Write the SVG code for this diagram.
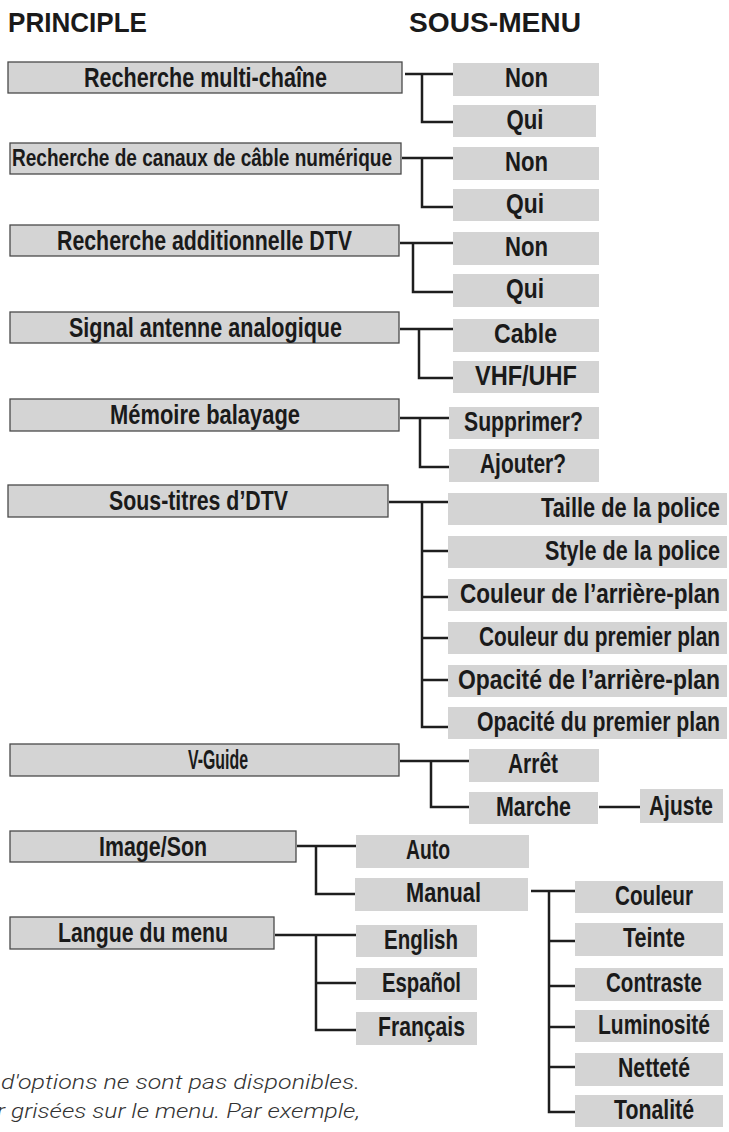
<svg xmlns="http://www.w3.org/2000/svg" width="729" height="1132" viewBox="0 0 729 1132">
<style>
.pb{fill:#d4d4d4;stroke:#4a4a4a;stroke-width:1.3}
.sb{fill:#d4d4d4}
.t{font-family:"Liberation Sans Narrow","Liberation Sans",Arial,sans-serif;font-weight:bold;font-size:28px;fill:#1a1a1a}
.m{text-anchor:middle}
.e{text-anchor:end}
.h{font-family:"Liberation Sans",Arial,sans-serif;font-weight:bold;font-size:28px;fill:#1a1a1a}
.n{font-family:Roboto,"Liberation Sans",Arial,sans-serif;font-style:italic;font-weight:300;font-size:20px;fill:#333333}
.c{fill:none;stroke:#1e1e1e;stroke-width:2.5}
</style>
<rect width="729" height="1132" fill="#ffffff"/>
<g id="titles">
<text class="h" x="8" y="32" textLength="139" lengthAdjust="spacingAndGlyphs">PRINCIPLE</text>
<text class="h" x="409" y="32" textLength="172" lengthAdjust="spacingAndGlyphs">SOUS-MENU</text>
</g>
<g id="connectors">
<path class="c" d="M405,74 H453 M422,74 V122 H453"/>
<path class="c" d="M402,158 H453 M422,158 V207 H453"/>
<path class="c" d="M400,243 H453 M413,243 V292 H453"/>
<path class="c" d="M400,329 H453 M419,329 V378 H453"/>
<path class="c" d="M400,418 H449 M420,418 V467 H449"/>
<path class="c" d="M389,502 H448 M422,502 V727 H448 M422,551 H448 M422,597 H448 M422,638 H448 M422,680 H448"/>
<path class="c" d="M400,761 H469 M431,761 V807 H469 M599,807 H640"/>
<path class="c" d="M297,846 H356 M316,846 V894 H355"/>
<path class="c" d="M275,935 H356 M316,935 V1030 H356 M316,983 H356"/>
<path class="c" d="M531,891 H575 M549,891 V1112 H575 M549,941 H575 M549,986 H575 M549,1027 H575 M549,1067 H575"/>
</g>
<g id="p1"><rect class="pb" x="8" y="62" width="394" height="31"/><text class="t m" x="205.5" y="87" textLength="243" lengthAdjust="spacingAndGlyphs">Recherche multi-chaîne</text></g>
<g id="p2"><rect class="pb" x="10" y="143" width="391" height="31"/><text class="t m" x="202" y="166" style="font-size:24px" textLength="380" lengthAdjust="spacingAndGlyphs">Recherche de canaux de câble numérique</text></g>
<g id="p3"><rect class="pb" x="10" y="225" width="389" height="31"/><text class="t m" x="204.5" y="250" textLength="295" lengthAdjust="spacingAndGlyphs">Recherche additionnelle DTV</text></g>
<g id="p4"><rect class="pb" x="10" y="312" width="389" height="31"/><text class="t m" x="205.5" y="337" textLength="273" lengthAdjust="spacingAndGlyphs">Signal antenne analogique</text></g>
<g id="p5"><rect class="pb" x="10" y="399" width="389" height="32"/><text class="t m" x="205" y="424" textLength="190" lengthAdjust="spacingAndGlyphs">Mémoire balayage</text></g>
<g id="p6"><rect class="pb" x="8" y="485" width="380" height="32"/><text class="t m" x="198.5" y="510" textLength="179" lengthAdjust="spacingAndGlyphs">Sous-titres d’DTV</text></g>
<g id="p7"><rect class="pb" x="10" y="744" width="389" height="32"/><text class="t m" x="218" y="769" textLength="60" lengthAdjust="spacingAndGlyphs">V-Guide</text></g>
<g id="p8"><rect class="pb" x="10" y="831" width="286" height="31"/><text class="t m" x="153" y="856" textLength="108" lengthAdjust="spacingAndGlyphs">Image/Son</text></g>
<g id="p9"><rect class="pb" x="10" y="917" width="264" height="32"/><text class="t m" x="143" y="942" textLength="170" lengthAdjust="spacingAndGlyphs">Langue du menu</text></g>

<g id="s-non1"><rect class="sb" x="453" y="63" width="146" height="33"/><text class="t m" x="526.5" y="87" textLength="43" lengthAdjust="spacingAndGlyphs">Non</text></g>
<g id="s-qui1"><rect class="sb" x="453" y="105" width="143" height="32"/><text class="t m" x="525" y="129" textLength="37" lengthAdjust="spacingAndGlyphs">Qui</text></g>
<g id="s-non2"><rect class="sb" x="453" y="147" width="146" height="33"/><text class="t m" x="526.5" y="171" textLength="43" lengthAdjust="spacingAndGlyphs">Non</text></g>
<g id="s-qui2"><rect class="sb" x="453" y="189" width="146" height="32"/><text class="t m" x="525" y="213" textLength="38" lengthAdjust="spacingAndGlyphs">Qui</text></g>
<g id="s-non3"><rect class="sb" x="453" y="232" width="146" height="33"/><text class="t m" x="526.5" y="256" textLength="43" lengthAdjust="spacingAndGlyphs">Non</text></g>
<g id="s-qui3"><rect class="sb" x="453" y="274" width="146" height="33"/><text class="t m" x="525" y="298" textLength="38" lengthAdjust="spacingAndGlyphs">Qui</text></g>
<g id="s-cable"><rect class="sb" x="453" y="319" width="146" height="33"/><text class="t m" x="525.5" y="343" textLength="63" lengthAdjust="spacingAndGlyphs">Cable</text></g>
<g id="s-vhf"><rect class="sb" x="453" y="361" width="146" height="32"/><text class="t m" x="526" y="385" textLength="102" lengthAdjust="spacingAndGlyphs">VHF/UHF</text></g>
<g id="s-supprimer"><rect class="sb" x="449" y="407" width="150" height="32"/><text class="t m" x="523.5" y="431" textLength="119" lengthAdjust="spacingAndGlyphs">Supprimer?</text></g>
<g id="s-ajouter"><rect class="sb" x="449" y="449" width="150" height="33"/><text class="t m" x="523" y="473" textLength="86" lengthAdjust="spacingAndGlyphs">Ajouter?</text></g>
<g id="s-taille"><rect class="sb" x="448" y="493" width="279" height="32"/><text class="t e" x="720" y="517" textLength="179" lengthAdjust="spacingAndGlyphs">Taille de la police</text></g>
<g id="s-style"><rect class="sb" x="448" y="536" width="279" height="32"/><text class="t e" x="720" y="560" textLength="175" lengthAdjust="spacingAndGlyphs">Style de la police</text></g>
<g id="s-couleur-ap"><rect class="sb" x="448" y="579" width="279" height="32"/><text class="t e" x="720" y="603" textLength="260" lengthAdjust="spacingAndGlyphs">Couleur de l’arrière-plan</text></g>
<g id="s-couleur-pp"><rect class="sb" x="448" y="622" width="279" height="32"/><text class="t e" x="720" y="646" textLength="241" lengthAdjust="spacingAndGlyphs">Couleur du premier plan</text></g>
<g id="s-opacite-ap"><rect class="sb" x="448" y="665" width="279" height="32"/><text class="t e" x="720" y="689" textLength="262" lengthAdjust="spacingAndGlyphs">Opacité de l’arrière-plan</text></g>
<g id="s-opacite-pp"><rect class="sb" x="448" y="707" width="279" height="32"/><text class="t e" x="720" y="731" textLength="243" lengthAdjust="spacingAndGlyphs">Opacité du premier plan</text></g>
<g id="s-arret"><rect class="sb" x="469" y="749" width="130" height="33"/><text class="t m" x="533" y="773" textLength="50" lengthAdjust="spacingAndGlyphs">Arrêt</text></g>
<g id="s-marche"><rect class="sb" x="469" y="792" width="129" height="32"/><text class="t m" x="533.5" y="816" textLength="75" lengthAdjust="spacingAndGlyphs">Marche</text></g>
<g id="s-ajuste"><rect class="sb" x="640" y="789" width="83" height="34"/><text class="t m" x="681" y="815" textLength="64" lengthAdjust="spacingAndGlyphs">Ajuste</text></g>
<g id="s-auto"><rect class="sb" x="356" y="835" width="173" height="33"/><text class="t" x="406" y="859" textLength="44" lengthAdjust="spacingAndGlyphs">Auto</text></g>
<g id="s-manual"><rect class="sb" x="355" y="878" width="173" height="33"/><text class="t" x="406" y="902" textLength="75" lengthAdjust="spacingAndGlyphs">Manual</text></g>
<g id="s-couleur"><rect class="sb" x="575" y="881" width="148" height="32"/><text class="t m" x="654" y="905" textLength="78" lengthAdjust="spacingAndGlyphs">Couleur</text></g>
<g id="s-teinte"><rect class="sb" x="575" y="923" width="148" height="33"/><text class="t m" x="654" y="947" textLength="62" lengthAdjust="spacingAndGlyphs">Teinte</text></g>
<g id="s-contraste"><rect class="sb" x="575" y="968" width="148" height="33"/><text class="t m" x="654" y="992" textLength="96" lengthAdjust="spacingAndGlyphs">Contraste</text></g>
<g id="s-luminosite"><rect class="sb" x="575" y="1010" width="148" height="32"/><text class="t m" x="654" y="1034" textLength="112" lengthAdjust="spacingAndGlyphs">Luminosité</text></g>
<g id="s-nettete"><rect class="sb" x="575" y="1053" width="148" height="33"/><text class="t m" x="654" y="1077" textLength="72" lengthAdjust="spacingAndGlyphs">Netteté</text></g>
<g id="s-tonalite"><rect class="sb" x="575" y="1095" width="148" height="32"/><text class="t m" x="654" y="1119" textLength="80" lengthAdjust="spacingAndGlyphs">Tonalité</text></g>
<g id="s-english"><rect class="sb" x="356" y="925" width="121" height="32"/><text class="t m" x="421" y="949" textLength="74" lengthAdjust="spacingAndGlyphs">English</text></g>
<g id="s-espanol"><rect class="sb" x="356" y="968" width="121" height="32"/><text class="t m" x="421.5" y="992" textLength="79" lengthAdjust="spacingAndGlyphs">Español</text></g>
<g id="s-francais"><rect class="sb" x="356" y="1012" width="121" height="33"/><text class="t m" x="421.5" y="1036" textLength="87" lengthAdjust="spacingAndGlyphs">Français</text></g>

<g id="note">
<text class="n" x="1" y="1089" textLength="359" lengthAdjust="spacingAndGlyphs">d'options ne sont pas disponibles.</text>
<text class="n" x="-3" y="1118" textLength="363" lengthAdjust="spacingAndGlyphs">r grisées sur le menu. Par exemple,</text>
</g>
</svg>
